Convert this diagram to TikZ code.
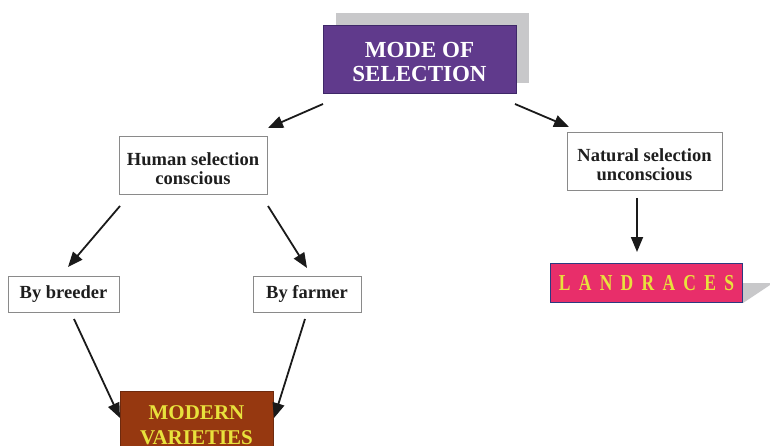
\documentclass[tikz,border=0pt]{standalone}
\usepackage{fontspec}
\setmainfont{Liberation Serif}
\usetikzlibrary{arrows.meta}
\definecolor{purp}{HTML}{603A8C}
\definecolor{purpdark}{HTML}{3E2868}
\definecolor{shadowg}{HTML}{C8C8CA}
\definecolor{boxgray}{HTML}{8A8A8A}
\definecolor{txt}{HTML}{1E1E1E}
\definecolor{arrowc}{HTML}{1A1A1A}
\definecolor{pinkf}{HTML}{E82E6A}
\definecolor{navyb}{HTML}{2C3A80}
\definecolor{brownf}{HTML}{963810}
\definecolor{browndark}{HTML}{6E2A0E}
\definecolor{yell}{HTML}{E8E23C}
\newcommand{\lsp}{\kern8.3pt}
\begin{document}
\begin{tikzpicture}[x=1pt,y=-1pt,
  wbox/.style={draw=boxgray, line width=0.9pt, fill=white, inner sep=0pt,
    font=\fontsize{18.5}{18.6}\selectfont\bfseries, text=txt, align=center},
  conn/.style={-{Triangle[length=15pt,width=12pt]}, line width=1.8pt, draw=arrowc},
  shade/.style={fill=shadowg, draw=none}]
\useasboundingbox (0,0) rectangle (770,446);
\clip (0,0) rectangle (770,446);

% shadows
\fill[shade] (336,13) rectangle (529,83);
\fill[shade] (743,283) -- (773,283) -- (743,303) -- cycle;

% boxes
\node[draw=purpdark, line width=0.8pt, fill=purp, minimum width=193pt, minimum height=68pt,
  inner sep=0pt, text=white] (mode) at (419.5,59) {};
\node[text=white, inner sep=0pt, align=center, font=\fontsize{23}{24}\selectfont\bfseries]
  (modetext) at (419.5,62) {MODE OF\\SELECTION};

\node[wbox, minimum width=148pt, minimum height=58pt] (human) at (193,165) {};
\node[text=txt, inner sep=0pt, align=center, font=\fontsize{18.5}{18.6}\selectfont\bfseries]
  (humantext) at (193,168.5) {Human selection\\conscious};
\node[wbox, minimum width=155pt, minimum height=58pt] (natural) at (644.5,161) {};
\node[text=txt, inner sep=0pt, align=center, font=\fontsize{18.5}{18.6}\selectfont\bfseries]
  (naturaltext) at (644.5,164.5) {Natural selection\\unconscious};
\node[wbox, minimum width=111pt, minimum height=36pt] (breeder) at (63.5,294) {By breeder};
\node[wbox, minimum width=108pt, minimum height=36pt] (farmer) at (307,294) {By farmer};

\node[draw=navyb, line width=1.8pt, fill=pinkf, minimum width=192pt, minimum height=39pt,
  inner sep=0pt, text=yell] (land) at (646.5,283)
  {\scalebox{1}[1.3]{\fontsize{17.5}{17.5}\selectfont\bfseries L\lsp A\lsp N\lsp D\lsp R\lsp A\lsp C\lsp E\lsp S}};

\node[draw=browndark, line width=0.8pt, fill=brownf, minimum width=153pt, minimum height=67pt,
  inner sep=0pt, text=yell, align=center, font=\fontsize{21}{25}\selectfont\bfseries]
  (modern) at (196.5,425) {MODERN\\VARIETIES};

% connector end points
\coordinate (m1) at (323,104); \coordinate (h0) at (268,128);
\coordinate (m2) at (515,104); \coordinate (n0) at (569,127);
\coordinate (h1) at (120,206); \coordinate (b0) at (68,267);
\coordinate (h2) at (268,206); \coordinate (f0) at (307,268);
\coordinate (n1) at (637,198); \coordinate (l0) at (637,252);
\coordinate (b1) at (74,319);  \coordinate (v1) at (120,418);
\coordinate (f1) at (305,319); \coordinate (v2) at (274,418);

\draw[conn] (m1) -- (h0);
\draw[conn] (m2) -- (n0);
\draw[conn] (h1) -- (b0);
\draw[conn] (h2) -- (f0);
\draw[conn] (n1) -- (l0);
\draw[conn] (b1) -- (v1);
\draw[conn] (f1) -- (v2);
\end{tikzpicture}
\end{document}
